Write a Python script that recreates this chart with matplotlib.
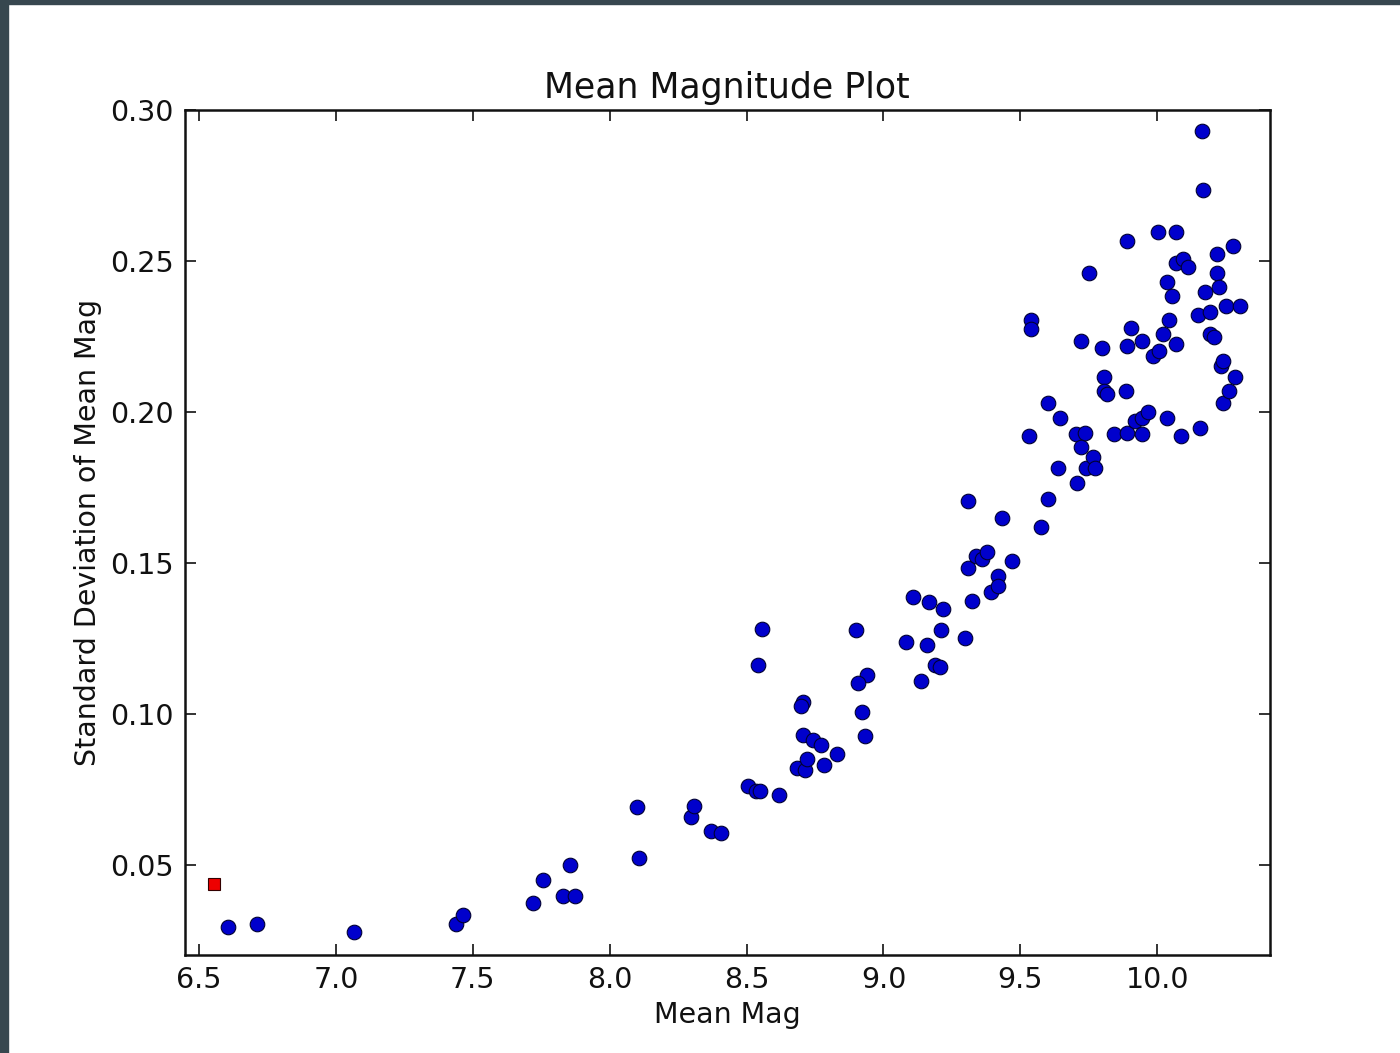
import matplotlib
matplotlib.use("Agg")
import matplotlib.pyplot as plt
from matplotlib.patches import Rectangle

# mean magnitude and its standard deviation for each star
mean_mag = [
    6.605, 6.711, 7.065, 7.437, 7.463, 7.718, 7.755, 7.854, 7.828, 7.872,
    8.099, 8.106, 8.296, 8.307, 8.369, 8.406, 8.504, 8.533, 8.548, 8.617,
    8.555, 8.541, 8.683, 8.712, 8.720, 8.782, 8.829, 8.705, 8.742, 8.771,
    8.705, 8.698, 8.899, 8.939, 8.906, 8.921, 8.932,
    9.081, 9.107, 9.165, 9.216, 9.209, 9.158, 9.188, 9.206, 9.136, 9.297,
    9.308, 9.308, 9.323, 9.338, 9.360, 9.378, 9.392, 9.418, 9.418, 9.432,
    9.469, 9.531, 9.538, 9.538, 9.575, 9.600, 9.600, 9.637, 9.644, 9.703,
    9.706, 9.721, 9.721, 9.735, 9.739, 9.750, 9.765, 9.772, 9.798, 9.805,
    9.805, 9.816, 9.842, 9.886, 9.889, 9.889, 9.904, 9.889, 9.918, 9.944,
    9.966, 9.944, 9.944, 9.984, 10.006, 10.002, 10.020, 10.035, 10.035, 10.042,
    10.053, 10.068, 10.068, 10.068, 10.086, 10.093, 10.111, 10.148, 10.155, 10.163,
    10.166, 10.174, 10.192, 10.192, 10.206, 10.217, 10.217, 10.224, 10.232, 10.239,
    10.239, 10.250, 10.261, 10.276, 10.283, 10.301,
]
std_mag = [
    0.0294, 0.0304, 0.0277, 0.0304, 0.0334, 0.0373, 0.0450, 0.0497, 0.0397, 0.0397,
    0.0690, 0.0523, 0.0656, 0.0693, 0.0610, 0.0603, 0.0760, 0.0743, 0.0743, 0.0730,
    0.1282, 0.1162, 0.0820, 0.0813, 0.0850, 0.0830, 0.0866, 0.0929, 0.0913, 0.0896,
    0.1039, 0.1026, 0.1276, 0.1129, 0.1103, 0.1006, 0.0926,
    0.1239, 0.1385, 0.1369, 0.1346, 0.1276, 0.1226, 0.1162, 0.1156, 0.1109, 0.1252,
    0.1482, 0.1705, 0.1372, 0.1522, 0.1512, 0.1535, 0.1402, 0.1455, 0.1422, 0.1648,
    0.1505, 0.1921, 0.2304, 0.2274, 0.1619, 0.1712, 0.2028, 0.1815, 0.1978, 0.1925,
    0.1765, 0.2234, 0.1882, 0.1931, 0.1815, 0.2461, 0.1852, 0.1815, 0.2211, 0.2115,
    0.2068, 0.2058, 0.1925, 0.2068, 0.2567, 0.2218, 0.2278, 0.1931, 0.1968, 0.1978,
    0.2001, 0.2234, 0.1925, 0.2184, 0.2201, 0.2597, 0.2258, 0.1978, 0.2431, 0.2304,
    0.2384, 0.2597, 0.2494, 0.2224, 0.1921, 0.2507, 0.2481, 0.2321, 0.1948, 0.2930,
    0.2734, 0.2397, 0.2331, 0.2258, 0.2248, 0.2524, 0.2461, 0.2414, 0.2151, 0.2168,
    0.2028, 0.2351, 0.2068, 0.2551, 0.2115, 0.2351,
]

# highlighted reference star
ref_mag = [6.554]
ref_std = [0.0437]

fig = plt.figure(figsize=(14, 10.53), dpi=100)
fig.patch.set_facecolor("white")

# dark window frame along the top and left
fig.patches.append(Rectangle((0, 0.996), 1, 0.004, transform=fig.transFigure,
                             color="#37474F", zorder=0))
fig.patches.append(Rectangle((0, 0), 0.0057, 1, transform=fig.transFigure,
                             color="#37474F", zorder=0))

ax = fig.add_axes([0.132, 0.093, 0.775, 0.8025])
ax.plot(mean_mag, std_mag, "o", color="#0000CC", markeredgecolor="#000033",
        markeredgewidth=0.8, markersize=10.5)
ax.plot(ref_mag, ref_std, "s", color="#EE0000", markeredgecolor="#330000",
        markeredgewidth=0.8, markersize=9)

ax.set_xlim(6.448, 10.411)
ax.set_ylim(0.02, 0.30)
ax.set_xticks([6.5, 7.0, 7.5, 8.0, 8.5, 9.0, 9.5, 10.0])
ax.set_yticks([0.05, 0.10, 0.15, 0.20, 0.25, 0.30])
ax.xaxis.set_major_formatter(matplotlib.ticker.FormatStrFormatter("%.1f"))
ax.yaxis.set_major_formatter(matplotlib.ticker.FormatStrFormatter("%.2f"))

ax.tick_params(direction="in", length=8, width=1.2, labelsize=20.5,
               top=True, right=True, pad=8, colors="#111111")
for spine in ax.spines.values():
    spine.set_linewidth(1.8)
    spine.set_color("#111111")

ax.set_title("Mean Magnitude Plot", fontsize=25, pad=9, color="#111111")
ax.set_xlabel("Mean Mag", fontsize=20.5, labelpad=5, color="#111111")
ax.set_ylabel("Standard Deviation of Mean Mag", fontsize=20.5, labelpad=6,
              color="#111111")

fig.savefig("out.png", dpi=100)
